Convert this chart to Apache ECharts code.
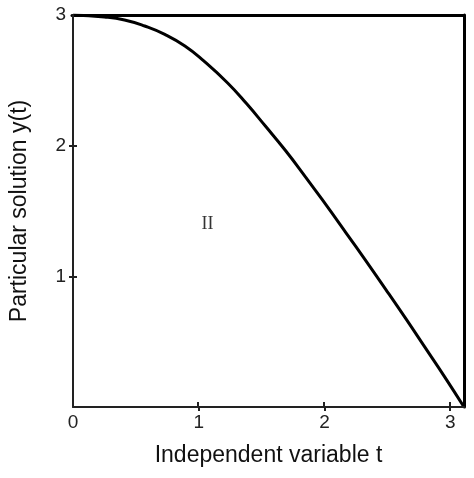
<!DOCTYPE html>
<html>
<head>
<meta charset="utf-8">
<script src="https://cdn.jsdelivr.net/npm/echarts@6/dist/echarts.min.js"></script>
<style>html,body{margin:0;padding:0;background:#fff}#c{width:474px;height:478px}</style>
</head>
<body>
<div id="c"></div>
<script>
// values
var tValues = [0, 0.25, 0.41, 0.57, 0.73, 0.89, 1.04, 1.23, 1.38, 1.53, 1.69, 1.85, 2.01, 2.17, 2.33, 2.49, 2.65, 2.80, 2.96, 3.11];
var yValues = [3, 2.985, 2.962, 2.916, 2.852, 2.763, 2.649, 2.48, 2.322, 2.15, 1.963, 1.76, 1.55, 1.335, 1.118, 0.897, 0.672, 0.456, 0.225, 0];
var xTickLabels = [0, 1, 2, 3];
var xTickMarks = [1, 2, 3];
var yTickLabels = [1, 2, 3];
var yTickMarks = [1, 2];
var annotation = { t: 1.07, y: 1.4, text: 'II' };

var FONT = 'Liberation Sans, Arial, sans-serif';
var chart = echarts.init(document.getElementById('c'));
var linePts = tValues.map(function (t, i) { return [t, yValues[i]]; });

var gridBox = { left: 72, right: 10, top: 15, bottom: 71, containLabel: false };
function xBase(g) { return { type: 'value', gridIndex: g, min: 0, max: 3.11, interval: 1, splitLine: { show: false } }; }
function yBase(g) { return { type: 'value', gridIndex: g, min: 0, max: 3, interval: 1, splitLine: { show: false } }; }
var tickStyle = { color: '#222', width: 2 };

chart.setOption({
  backgroundColor: '#fff',
  animation: false,
  grid: [Object.assign({}, gridBox), Object.assign({}, gridBox)],
  xAxis: [
    Object.assign(xBase(0), {
      position: 'bottom', z: 5,
      name: 'Independent variable t', nameLocation: 'middle', nameGap: 37,
      nameTextStyle: { fontFamily: FONT, fontSize: 23, color: '#111' },
      axisLine: { show: true, onZero: false, lineStyle: { color: '#222', width: 2 } },
      axisTick: { show: true, inside: false, length: 4, customValues: xTickMarks, lineStyle: tickStyle },
      axisLabel: { show: true, customValues: xTickLabels, margin: 6, fontFamily: FONT, fontSize: 19, color: '#222' }
    }),
    Object.assign(xBase(1), {
      position: 'bottom',
      axisLine: { show: false, onZero: false },
      axisTick: { show: true, inside: true, length: 5, customValues: xTickMarks, lineStyle: tickStyle },
      axisLabel: { show: false }
    }),
    Object.assign(xBase(1), {
      position: 'top',
      axisLine: { show: true, onZero: false, lineStyle: { color: '#000', width: 3 } },
      axisTick: { show: false }, axisLabel: { show: false }
    })
  ],
  yAxis: [
    Object.assign(yBase(0), {
      position: 'left', z: 5,
      name: 'Particular solution y(t)', nameLocation: 'middle', nameGap: 42,
      nameTextStyle: { fontFamily: FONT, fontSize: 23, color: '#111' },
      axisLine: { show: true, onZero: false, lineStyle: { color: '#222', width: 2 } },
      axisTick: { show: true, inside: false, length: 4, customValues: yTickMarks, lineStyle: tickStyle },
      axisLabel: { show: true, customValues: yTickLabels, margin: 7, fontFamily: FONT, fontSize: 19, color: '#222' }
    }),
    Object.assign(yBase(1), {
      position: 'left',
      axisLine: { show: false, onZero: false },
      axisTick: { show: true, inside: true, length: 5, customValues: yTickMarks, lineStyle: tickStyle },
      axisLabel: { show: false }
    }),
    Object.assign(yBase(1), {
      position: 'right',
      axisLine: { show: true, onZero: false, lineStyle: { color: '#000', width: 3 } },
      axisTick: { show: false }, axisLabel: { show: false }
    })
  ],
  series: [
    {
      type: 'line', xAxisIndex: 0, yAxisIndex: 0,
      data: linePts, smooth: 0.5, symbol: 'none',
      lineStyle: { color: '#000', width: 3 }
    },
    {
      type: 'scatter', xAxisIndex: 0, yAxisIndex: 0,
      data: [[annotation.t, annotation.y]], symbolSize: 0,
      label: { show: true, position: 'inside', formatter: annotation.text,
        fontFamily: 'Liberation Serif, Times New Roman, serif', fontSize: 18, color: '#000' }
    }
  ]
});
</script>
</body>
</html>
